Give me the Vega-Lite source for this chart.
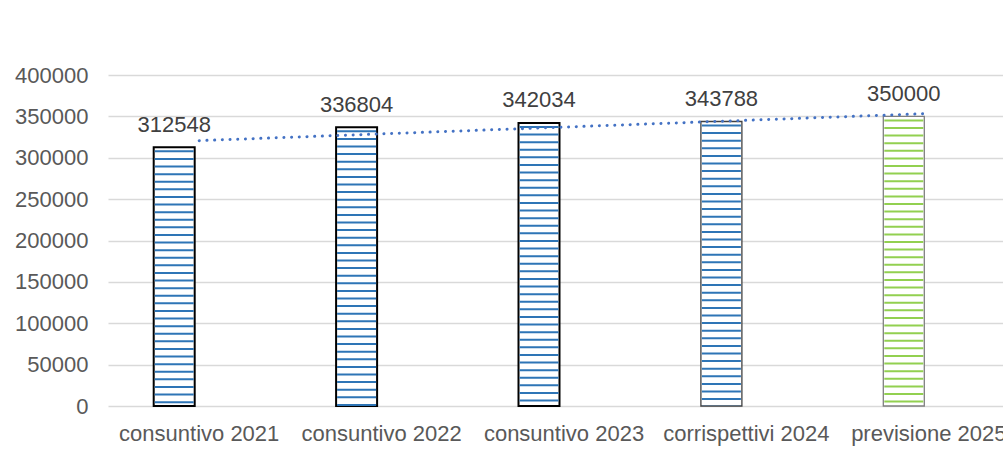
{
  "$schema": "https://vega.github.io/schema/vega-lite/v6.json",
  "autosize": {"type": "none"},
  "width": 895,
  "height": 331,
  "padding": {"left": 108, "top": 75, "right": 0, "bottom": 62},
  "background": "white",
  "config": {"view": {"stroke": null}, "font": "Liberation Sans"},
  "data": {
    "values": [
      {"cat": "consuntivo 2021", "n": 1, "value": 312548},
      {"cat": "consuntivo 2022", "n": 2, "value": 336804},
      {"cat": "consuntivo 2023", "n": 3, "value": 342034},
      {"cat": "corrispettivi 2024", "n": 4, "value": 343788},
      {"cat": "previsione 2025", "n": 5, "value": 350000}
    ]
  },
  "encoding": {
    "y": {
      "field": "value",
      "type": "quantitative",
      "scale": {"domain": [0, 400000]},
      "axis": {
        "title": null,
        "values": [0, 50000, 100000, 150000, 200000, 250000, 300000, 350000, 400000],
        "format": "d",
        "labelFontSize": 22,
        "labelColor": "#595959",
        "labelPadding": 20,
        "ticks": false,
        "tickSize": 0,
        "domain": false,
        "grid": true,
        "gridColor": "#d9d9d9",
        "gridWidth": 1.5
      }
    }
  },
  "layer": [
    {
      "encoding": {
        "x": {
          "field": "cat",
          "type": "nominal",
          "sort": null,
          "scale": {"range": [0, 912], "paddingInner": 0, "paddingOuter": 0},
          "axis": {
            "title": null,
            "labelAngle": 0,
            "labelFontSize": 22,
            "labelColor": "#595959",
            "labelPadding": 17,
            "labelLimit": 300,
            "ticks": false,
            "tickSize": 0,
            "domain": false
          }
        }
      },
      "layer": [
        {
          "mark": {"type": "bar", "size": 41, "xOffset": -25, "fill": "white"},
          "encoding": {
            "stroke": {
              "condition": [
                {"test": "datum.n === 4", "value": "#404040"},
                {"test": "datum.n === 5", "value": "#7f7f7f"}
              ],
              "value": "#000000"
            },
            "strokeWidth": {
              "condition": {"test": "datum.n >= 4", "value": 1.3},
              "value": 2
            }
          }
        },
        {
          "mark": {
            "type": "rule",
            "xOffset": -25,
            "strokeWidth": 39,
            "strokeDash": [2, 5.6],
            "strokeDashOffset": 4.6,
            "strokeCap": "butt"
          },
          "encoding": {
            "y2": {"datum": 0},
            "color": {
              "condition": {"test": "datum.n === 5", "value": "#92d050"},
              "value": "#2e75b6"
            }
          }
        },
        {
          "mark": {
            "type": "text",
            "xOffset": -25,
            "dy": -15.5,
            "baseline": "alphabetic",
            "fontSize": 22,
            "color": "#404040"
          },
          "encoding": {
            "text": {"field": "value", "type": "quantitative", "format": "d"}
          }
        }
      ]
    },
    {
      "transform": [{"regression": "value", "on": "n"}],
      "mark": {
        "type": "line",
        "stroke": "#4472c4",
        "strokeWidth": 3,
        "strokeDash": [0.1, 7.6],
        "strokeCap": "round"
      },
      "encoding": {
        "x": {
          "field": "n",
          "type": "quantitative",
          "scale": {"domain": [0.5, 5.5], "range": [0, 912]},
          "axis": null
        }
      }
    }
  ],
  "resolve": {"scale": {"x": "independent"}}
}
